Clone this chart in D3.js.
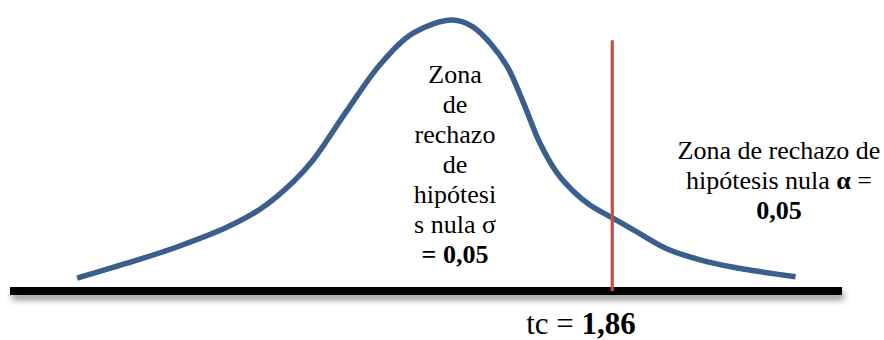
<!DOCTYPE html>
<html>
<head>
<meta charset="utf-8">
<script src="https://cdn.jsdelivr.net/npm/d3@7"></script>
<style>
  html, body { margin: 0; padding: 0; background: #ffffff; }
  svg { display: block; }
</style>
</head>
<body>
<svg id="chart" width="884" height="340"></svg>
<script>
// ---- Data ----
const curveT = [-4.36, -3.78, -3.20, -2.62, -2.23, -1.85, -1.62, -1.22, -0.84, -0.45, 0.00, 0.24, 0.44, 0.64, 0.83, 1.02, 1.22, 1.41, 1.60, 1.86, 2.11, 2.50, 2.88, 3.27, 3.66, 3.99];
const curveDensity = [0.019, 0.041, 0.065, 0.094, 0.121, 0.161, 0.193, 0.267, 0.334, 0.381, 0.400, 0.390, 0.366, 0.331, 0.277, 0.218, 0.174, 0.147, 0.127, 0.108, 0.090, 0.062, 0.046, 0.035, 0.027, 0.021];
const axisExtent = [-5.14, 4.53];
const criticalValue = 1.86;
const criticalTop = 0.37;
const centerLabel = ["Zona", "de", "rechazo", "de", "hipótesi", "s nula σ"];
const centerLabelLast = "= 0,05";
const rightLabel = ["Zona de rechazo de", "hipótesis nula "];
const rightAlpha = "α";
const alphaValue = "0,05";
const tcLabel = "tc = ";
const tcValue = "1,86";

const FONT = "Liberation Serif";

// ---- Scales ----
const svg = d3.select("#chart");
const x = d3.scaleLinear().domain(axisExtent).range([10, 842]);
const y = d3.scaleLinear().domain([0, 0.4]).range([291, 20]);

// shadow filter for the baseline
const defs = svg.append("defs");
const f = defs.append("filter").attr("id", "shadow")
  .attr("filterUnits", "userSpaceOnUse")
  .attr("x", 0).attr("y", 270).attr("width", 884).attr("height", 50);
f.append("feDropShadow").attr("dx", 2).attr("dy", 5).attr("stdDeviation", 3)
  .attr("flood-color", "#000").attr("flood-opacity", 0.4);

// baseline (axis)
svg.append("rect")
  .attr("x", x(axisExtent[0])).attr("width", x(axisExtent[1]) - x(axisExtent[0]))
  .attr("y", y(0) - 4).attr("height", 8)
  .attr("fill", "#000")
  .attr("filter", "url(#shadow)");

// distribution curve
const pts = curveT.map((t, i) => [t, curveDensity[i]]);
const line = d3.line()
  .x(d => x(d[0])).y(d => y(d[1]))
  .curve(d3.curveCatmullRom.alpha(0.5));
svg.append("path")
  .attr("d", line(pts))
  .attr("fill", "none")
  .attr("stroke", "#3a5f8d")
  .attr("stroke-width", 5.5)
  .attr("stroke-linecap", "butt");

// critical value line
svg.append("line")
  .attr("x1", x(criticalValue)).attr("x2", x(criticalValue))
  .attr("y1", y(criticalTop)).attr("y2", y(0))
  .attr("stroke", "#c0504d").attr("stroke-width", 3.2);

function txt(xp, yp, size) {
  return svg.append("text").attr("x", xp).attr("y", yp)
    .attr("text-anchor", "middle").attr("font-size", size)
    .style("font-family", FONT).attr("fill", "#000");
}

// center label
const cx = 455;
centerLabel.forEach((s, i) => { txt(cx, 83 + i * 30, 26).text(s); });
txt(cx, 83 + centerLabel.length * 30, 26).attr("font-weight", "bold").text(centerLabelLast);

// right label
const rx = 779;
txt(rx, 159, 26).text(rightLabel[0]);
const t2 = txt(rx, 189, 26);
t2.append("tspan").text(rightLabel[1]);
t2.append("tspan").attr("font-weight", "bold").text(rightAlpha);
t2.append("tspan").text(" =");
txt(rx, 219, 26).attr("font-weight", "bold").text(alphaValue);

// tc label
const t3 = txt(581, 334, 31);
t3.append("tspan").text(tcLabel);
t3.append("tspan").attr("font-weight", "bold").text(tcValue);
</script>
</body>
</html>
